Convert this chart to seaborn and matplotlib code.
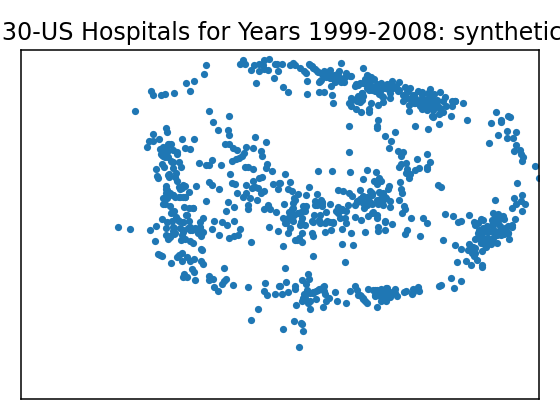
import matplotlib
matplotlib.use("Agg")
import matplotlib.pyplot as plt
import pandas as pd
import seaborn as sns

# embedding values, one list per area of the map
upper_left = [(206,65),(204,74),(194,81),(186,83),(190,91),(174,93),(165,94),(161,95),(153,95),(151,91),(135,111),
    (209,111),(229,116),(213,122),(218,130),(228,130),(229,135),(255,137),(266,142),
    (166,128),(167,132),(153,134),(149,141),(153,141),(159,139),(182,139),(194,139),(147,147),(169,144),(171,144),
    (185,148),(190,149),(160,149),(163,147),(167,149),(173,150),(177,154),(161,154),(163,156),(168,157),(171,161),
    (173,162),(179,162),(181,167),(173,168),(162,164),(164,167),(156,169),(157,176),(158,178),(169,174),(169,177),
    (176,173),(175,177),(177,181),(166,186),(166,189),(183,186),(179,187),(185,186),(180,189),(196,186),(189,192),
    (166,193),(169,195),(173,195),(163,198),(167,198),(175,197),(179,197),(183,197),(185,197),(163,204),(165,204),
    (170,206),(184,207),(189,208),(193,208),(174,211),(171,213),(186,215),(162,219),(167,222),(172,221),(176,217),
    (179,221),(183,222),(189,221),(200,222),(203,218),(214,221),(222,222),(234,221),
    (206,201),(228,202),(234,207),(226,211),(248,205),(248,209),(264,209),(268,205),(270,209),(276,212),(257,200),
    (237,193),(243,197),(246,193),(250,198),(252,188),(255,187),(258,188),(261,193),(264,191),(246,185),(253,181),
    (259,178),(262,177),(273,184),(278,189),(279,183),
    (209,182),(212,185),(219,189),(232,183),(235,184),(230,174),(199,163),(206,165),(209,165),(212,160),(221,165),
    (232,161),(236,159),(239,158),(242,156),(244,153),(246,147),(253,148),(261,151),(262,156),(225,144),(229,144),
    (233,148),(237,150),(245,167),(248,167),(253,169),(267,164),(266,168),(272,171),
    (243,60),(240,64),(245,64),(254,65),(251,70),(259,64),(259,71),(263,65),(264,60),(269,59),(264,69),(268,70),
    (275,64),(277,64),(278,71),(274,78),(256,83)]

lower_left = [(118,227),(130,229),(150,230),(156,226),(166,228),(155,241),(166,235),(168,239),(170,236),(174,234),
    (174,228),(173,231),(180,228),(183,232),(182,235),(181,240),(185,239),(188,228),(190,230),(190,241),(193,243),
    (196,229),(198,232),(201,236),(203,232),(200,227),(212,229),(219,235),(229,238),(234,236),(238,235),(240,229),
    (227,225),(251,242),(269,227),(278,231),
    (201,249),(202,250),(158,254),(160,255),(162,256),(182,253),(179,255),(177,257),(187,257),(194,259),(190,261),
    (182,261),(171,263),(201,261),(203,264),(224,268),(192,269),(194,272),(184,274),(183,277),(187,277),(195,280),
    (209,276),(209,280),(213,279),(226,279),(224,281),(222,284),(233,285),(214,287),(218,291),(248,287),(265,283),
    (264,291),(267,295),(275,294),(279,286),(258,309),(251,320)]

lower_right = [(283,246),(313,256),(285,268),(345,262),(342,244),(353,245),(295,240),(299,238),(302,242),(288,233),
    (313,236),(312,233),(325,232),(331,230),(342,229),(351,233),(365,232),(378,231),(385,230),(405,234),(407,230),
    (420,236),(443,240),(455,245),(461,249),(469,244),(468,250),(475,248),(482,251),(472,253),(474,256),(477,260),
    (466,261),(457,262),(471,265),(482,265),(482,267),
    (308,274),(309,279),(302,280),(306,284),(286,282),(295,286),(295,289),(280,286),(282,294),(288,292),(307,290),
    (304,294),(303,298),(302,301),(310,293),(313,293),(316,291),(319,289),(324,286),(324,291),(325,294),(316,299),
    (310,301),(308,303),(329,298),(326,301),(323,307),(310,309),(296,305),(335,292),(337,301),(346,303),(350,291),
    (355,286),(357,290),(358,295),(361,296),(363,299),(365,301),(367,303),(368,289),(373,290),(377,290),(381,289),
    (386,288),(375,296),(380,296),(383,294),(388,293),(395,289),(393,293),(397,296),(381,301),(386,301),(377,307),
    (404,292),(406,291),(412,294),(413,289),(418,287),(419,291),(439,286),(441,285),(451,278),(461,281),(454,288),
    (294,321),(301,323),(302,324),(303,331),(283,329),(299,347)]

upper_right = [(282,64),(290,65),(293,63),(295,65),(300,68),(304,71),(306,73),(309,64),(312,66),(315,69),(318,72),
    (322,74),(324,71),(326,77),(330,70),(331,78),(339,71),(341,63),(346,73),(351,76),(338,77),(335,82),(341,82),
    (344,82),(307,81),(319,82),(321,80),(331,86),(283,87),(288,92),(307,94),(319,92),(324,92),(332,95),(333,103),
    (363,68),(367,75),(371,77),(374,79),(356,84),(360,83),(365,83),(369,84),(373,87),(377,88),(381,83),(387,84),
    (392,81),(399,82),(383,88),(388,89),(393,87),(399,90),(362,93),(360,97),(357,98),(369,90),(379,94),(383,97),
    (390,98),(351,98),(349,103),(351,106),(356,109),(360,102),(361,112),(369,109),(369,112),(371,103),(378,105),
    (383,102),(403,101),(407,92),(410,88),(414,95),(422,92),(430,89),(434,94),(440,92),(445,97),(455,101),(463,103),
    (452,106),(446,106),(409,105),(409,111),(414,103),(420,106),(422,109),(427,110),(430,107),(433,102),(426,100),
    (420,100),(429,97),(437,101),(436,107),(443,112),(439,114),(432,116),(433,117),(451,116),(467,120),(439,124),
    (428,129),(415,126),(378,120),(377,126),(377,128),(349,126),(395,132),(385,136),(391,141),(389,148),(349,152),
    (398,151),(403,152),(401,156),(427,154),(417,159),(430,162),(427,167),(427,169),(419,168),(415,170),(406,163),
    (401,164),(399,167),(407,169),(406,173),(410,174),(409,178),
    (496,112),(491,123),(501,120),(501,122),(508,116),(510,117),(507,131),(516,132),(498,135),(507,138),(513,138),
    (489,143),(516,145),(520,150),(514,151),(521,154),(523,157),(522,161),(535,166),(539,178),(517,183)]

centre = [(318,171),(332,171),(350,172),(367,170),(376,172),(363,179),(379,178),(374,181),(377,184),(381,181),
    (400,182),(389,186),(388,189),(401,189),(402,193),(438,185),(441,187),(285,174),(280,183),(290,182),(288,189),
    (292,191),(309,187),(298,194),(306,195),(317,194),(338,190),(343,191),(349,193),(360,190),(352,196),
    (370,191),(372,195),(379,192),(383,193),(386,198),(390,201),(390,207),(382,198),(379,200),(378,204),(383,205),
    (363,196),(360,199),(357,201),(355,205),(363,203),(368,199),(367,205),(372,204),(364,208),(348,205),(399,200),
    (404,206),(405,209),(402,213),(368,216),(373,212),(377,218),(355,217),(361,220),(346,211),(345,218),(338,207),
    (342,209),(336,211),(338,213),(330,204),(326,212),(322,203),(321,200),(315,201),(315,205),(322,206),(306,206),
    (303,206),(301,212),(305,211),(298,213),(294,198),(293,203),(292,209),(289,212),(284,204),(283,218),(289,218),
    (294,215),(293,221),(286,223),(301,222),(312,221),(314,215),(320,215),(319,220),(327,221),(333,222),(340,218),
    (346,223),(385,221),(392,224),(411,218),(423,218),(427,223)]

right_cluster = [(445,214),(453,216),(469,215),(461,221),(458,222),(481,219),(474,222),(493,213),(495,216),(498,214),
    (503,216),(504,219),(515,219),(492,220),(497,221),(512,208),(516,204),(514,198),(522,195),(521,201),(525,204),
    (522,211),(495,200),(475,225),(479,230),(483,228),(487,226),(493,225),(500,226),(508,226),(512,225),(478,233),
    (483,232),(488,232),(493,229),(497,232),(501,235),(504,234),(508,233),(509,239),(497,243),(475,239),(480,238),
    (484,239),(489,239),(493,238),(481,243),(487,244),(491,244),(486,247),(479,236)]

dense_top = [(310,65),(313,68),(317,71),(322,73),(325,76),(330,75),(330,78),(335,80),(340,78),(343,81),(338,73),
    (350,76),(320,81),(355,86),(358,85),(363,83),(368,76),(372,80),(368,83),(367,88),(372,90),(375,91),(362,93),
    (358,96),(362,100),(357,101),(352,100),(363,96),(380,91),(385,88),(382,96),(388,85),(393,88),(390,93),(398,91),
    (403,95),(408,91),(407,98),(413,95),(415,98),(422,95),(428,93),(425,100),(432,98),(437,100),(422,105),(427,108),
    (432,106),(437,105),(433,110),(440,108),(428,103),(443,101),(452,101),(455,101),(415,103),(422,108),(440,113),
    (433,116),(327,72),(334,75),(345,77),(365,79),(377,84),(396,86),(405,87),(418,91),(411,99),(419,101),(425,104)]

dense_middle = [(290,213),(293,208),(295,200),(288,218),(285,223),(292,220),(298,213),(305,207),(302,218),(300,225),
    (305,225),(290,228),(302,233),(297,240),(313,222),(320,223),(325,223),(330,222),(333,223),(338,208),(342,210),
    (357,202),(362,198),(367,197),(372,193),(380,193),(383,200),(377,200),(370,202),(365,205),(385,197),(372,213),
    (377,215),(378,227),(385,222),(317,205),(322,202)]

dense_right = [(495,220),(498,223),(492,225),(487,230),(482,233),(493,232),(500,230),(505,228),(487,238),(492,240),
    (482,242),(485,245),(477,238),(478,223),(483,220),(473,247),(475,253),(497,235),(508,233),(512,227),(500,218)]

dense_bottom = [(307,293),(313,292),(318,290),(323,287),(305,298),(375,290),(380,292),(385,293),(390,292),(395,293),
    (390,297),(385,298),(380,295),(375,295),(387,288),(360,295),(363,298),(413,292),(418,288)]

dense_left = [(163,150),(167,152),(162,155),(165,157),(168,144),(172,162),(177,152),(168,175),(170,193),(173,195),
    (180,197),(185,197),(167,190),(182,188),(183,185),(178,220),(183,222),(190,227),(195,228),(200,228),(198,233),
    (192,230),(173,227),(175,233),(183,230),(170,237),(187,215),(172,212),(193,208)]

x_limits = (21, 539)
y_limits = (399, 50)
title = "Diabetes 130-US Hospitals for Years 1999-2008: synthetic samples"

points = pd.DataFrame(upper_left + lower_left + lower_right + upper_right + centre + right_cluster
                      + dense_top + dense_middle + dense_right + dense_bottom + dense_left,
                      columns=["x", "y"])

fig = plt.figure(figsize=(5.6, 4.2), dpi=100)
ax = fig.add_axes([21 / 560, 21 / 420, 518 / 560, 349 / 420])
sns.scatterplot(data=points, x="x", y="y", s=27, color="#1f77b4", linewidth=0, ax=ax)
ax.set_xlim(x_limits)
ax.set_ylim(y_limits)
ax.set_xticks([])
ax.set_yticks([])
ax.set_xlabel("")
ax.set_ylabel("")
for spine in ax.spines.values():
    spine.set_linewidth(1.1)
ax.set_title(title, fontsize=17.1, pad=7.5, x=0.483)

fig.savefig("out.png", dpi=100)
